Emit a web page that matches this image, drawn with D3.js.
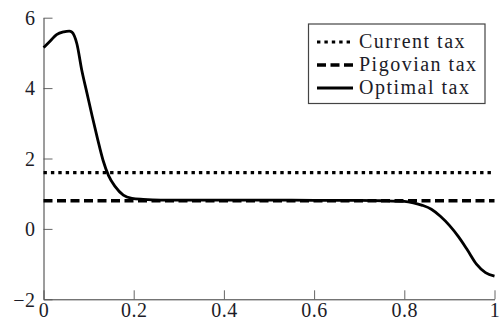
<!DOCTYPE html>
<html>
<head>
<meta charset="utf-8">
<script src="https://cdn.jsdelivr.net/npm/d3@7"></script>
<style>
  html, body { margin: 0; padding: 0; background: #fff; }
  svg { display: block; }
</style>
</head>
<body>
<svg id="chart" width="502" height="320"></svg>
<script>
// ---- data ----
const xTicks = [0, 0.2, 0.4, 0.6, 0.8, 1];
const xTickLabels = ["0", "0.2", "0.4", "0.6", "0.8", "1"];
const yTicks = [-2, 0, 2, 4, 6];
const yTickLabels = ["\u22122", "0", "2", "4", "6"];

const seriesNames = ["Current tax", "Pigovian tax", "Optimal tax"];
const currentTax = 1.6;
const pigovianTax = 0.8;

const optimalX = [0.0, 0.015, 0.029, 0.045, 0.057, 0.063, 0.074, 0.085, 0.096, 0.108, 0.12, 0.132, 0.144, 0.159, 0.177, 0.196, 0.221, 0.26, 0.3, 0.4, 0.5, 0.6, 0.7, 0.75, 0.8, 0.82, 0.84, 0.86, 0.88, 0.9, 0.92, 0.94, 0.96, 0.98, 1.0];
const optimalY = [5.15, 5.34, 5.52, 5.6, 5.62, 5.59, 5.26, 4.5, 3.88, 3.2, 2.55, 1.95, 1.52, 1.2, 0.96, 0.87, 0.84, 0.82, 0.82, 0.82, 0.82, 0.81, 0.81, 0.8, 0.78, 0.74, 0.67, 0.56, 0.36, 0.1, -0.22, -0.6, -1.0, -1.24, -1.34];

// ---- layout ----
const FONT = "'Liberation Serif', monospace";
const svg = d3.select("#chart");
const x = d3.scaleLinear().domain([0, 1]).range([43.5, 494.5]);
const y = d3.scaleLinear().domain([-2, 6]).range([299.3, 17.7]);
const axisColor = "#3a3a3a";
const tickLen = 9;

// axes (only left & bottom, inward ticks)
const xAxis = d3.axisBottom(x).tickValues(xTicks).tickSizeInner(-tickLen).tickSizeOuter(0)
  .tickFormat((d, i) => xTickLabels[i]).tickPadding(5);
const yAxis = d3.axisLeft(y).tickValues(yTicks).tickSizeInner(-tickLen).tickSizeOuter(0)
  .tickFormat((d, i) => yTickLabels[i]).tickPadding(8);

const gx = svg.append("g").attr("transform", `translate(0,${y(-2)})`).call(xAxis);
const gy = svg.append("g").attr("transform", `translate(${x(0)},0)`).call(yAxis);
[gx, gy].forEach(g => {
  g.attr("font-family", null).attr("font-size", null);
  g.select(".domain").attr("stroke", axisColor).attr("stroke-width", 1);
  g.selectAll(".tick line").attr("stroke", "#555").attr("stroke-width", 0.9);
  g.selectAll(".tick text").style("font-family", FONT).style("font-size", "20px")
    .style("letter-spacing", "0.5px").attr("fill", "#1c1c28");
});
gy.selectAll(".tick text").attr("dy", "0.34em");
gx.selectAll(".tick text").attr("dy", "0.66em");

// horizontal reference lines
svg.append("line")
  .attr("x1", x(0)).attr("x2", x(1)).attr("y1", y(currentTax)).attr("y2", y(currentTax))
  .attr("stroke", "#000").attr("stroke-width", 3.2).attr("stroke-dasharray", "3.4,4");
svg.append("line")
  .attr("x1", x(0)).attr("x2", x(1)).attr("y1", y(pigovianTax)).attr("y2", y(pigovianTax))
  .attr("stroke", "#000").attr("stroke-width", 3.4).attr("stroke-dasharray", "9,4.5");

// optimal tax curve
const pts = optimalX.map((v, i) => [v, optimalY[i]]);
const line = d3.line().x(d => x(d[0])).y(d => y(d[1])).curve(d3.curveMonotoneX);
svg.append("path").datum(pts).attr("d", line)
  .attr("fill", "none").attr("stroke", "#000").attr("stroke-width", 2.8).attr("stroke-linejoin", "round");

// legend
const lg = svg.append("g");
lg.append("rect").attr("x", 308.5).attr("y", 24).attr("width", 176.5).attr("height", 79.5)
  .attr("fill", "#fff").attr("stroke", "#444").attr("stroke-width", 1.2);
const styles = [
  { dash: "3.4,4", w: 3.2 },
  { dash: "9,4.5", w: 3.4 },
  { dash: null, w: 2.8 }
];
seriesNames.forEach((name, i) => {
  const cy = 42 + i * 23;
  const l = lg.append("line").attr("x1", 317).attr("x2", 353).attr("y1", cy).attr("y2", cy)
    .attr("stroke", "#000").attr("stroke-width", styles[i].w);
  if (styles[i].dash) l.attr("stroke-dasharray", styles[i].dash);
  lg.append("text").attr("x", 359).attr("y", cy + 5.5)
    .style("font-family", FONT).style("font-size", "20px").style("letter-spacing", "1.5px")
    .attr("fill", "#1c1c28").text(name);
});
</script>
</body>
</html>
